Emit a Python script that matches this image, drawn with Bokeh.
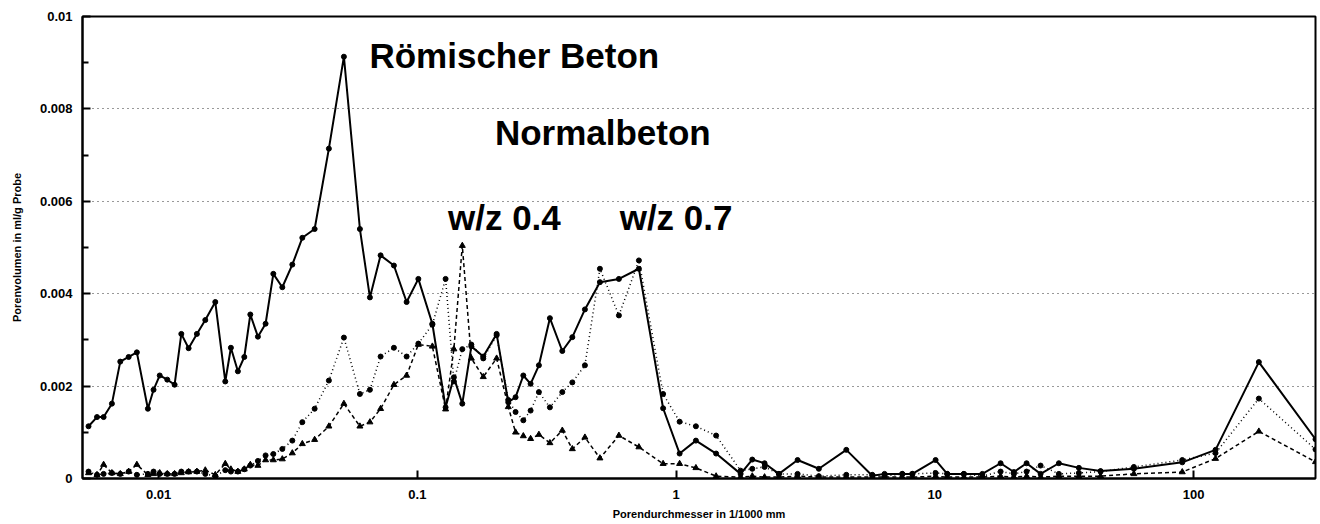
from bokeh.plotting import figure
from bokeh.models import FixedTicker, CustomJSTickFormatter, Range1d, Label
from bokeh.embed import file_html
from bokeh.resources import INLINE

# Porendurchmesser in 1/1000 mm
pore_d = [0.00536, 0.00578, 0.00613, 0.0066, 0.00711, 0.00766, 0.00824, 0.00909, 0.00956, 0.0101,
          0.0108, 0.01153, 0.01224, 0.01306, 0.01406, 0.01515, 0.01656, 0.0181, 0.01903, 0.02025,
          0.02144, 0.02262, 0.0242, 0.02591, 0.02776, 0.03007, 0.03287, 0.03593, 0.04009, 0.04551,
          0.05202, 0.05998, 0.06557, 0.07211, 0.08118, 0.09089, 0.1009, 0.1143, 0.1286, 0.1384,
          0.1492, 0.1617, 0.1798, 0.2025, 0.2246, 0.2397, 0.2568, 0.274, 0.295, 0.3253,
          0.3633, 0.3972, 0.4443, 0.5077, 0.6012, 0.7183, 0.891, 1.032, 1.193, 1.428,
          1.776, 1.970, 2.198, 2.497, 2.949, 3.563, 4.549, 5.733, 6.394, 7.484,
          8.185, 10.07, 11.17, 12.95, 15.26, 17.96, 20.21, 22.63, 25.63, 30.16,
          36.04, 43.71, 58.79, 90.43, 121.6, 178.8, 296.0]

# Römischer Beton (solid)
roman = [0.00113, 0.00133, 0.00133, 0.00162, 0.00253, 0.00263, 0.00273, 0.00151, 0.00192, 0.00223,
         0.00214, 0.00203, 0.00313, 0.00282, 0.00313, 0.00343, 0.00382, 0.0021, 0.00283, 0.00232,
         0.00263, 0.00355, 0.00307, 0.00335, 0.00443, 0.00414, 0.00463, 0.00521, 0.0054, 0.00714,
         0.00913, 0.0054, 0.00392, 0.00483, 0.00461, 0.00382, 0.00432, 0.00335, 0.00154, 0.00219,
         0.00162, 0.00286, 0.00264, 0.00313, 0.00165, 0.00176, 0.00223, 0.00205, 0.00245, 0.00347,
         0.00276, 0.00306, 0.00366, 0.00425, 0.00432, 0.00454, 0.00152, 0.00054, 0.00082, 0.00054,
         0.0001, 0.00041, 0.00033, 0.0001, 0.0004, 0.00021, 0.00062, 0.00006, 0.0001, 0.0001,
         0.0001, 0.0004, 0.0001, 0.0001, 0.0001, 0.00033, 0.00014, 0.00033, 0.0001, 0.00033,
         0.00023, 0.00016, 0.00021, 0.00035, 0.00062, 0.00252, 0.00085]

# Normalbeton w/z 0.7 (dotted)
wz07 = [0.00015, 0.00008, 0.0001, 0.00012, 0.0001, 0.00015, 0.00008, 0.0001, 0.00015, 0.0001,
        0.0001, 0.0001, 0.00015, 0.00015, 0.00015, 0.0001, 0.00005, 0.00018, 0.00015, 0.00015,
        0.0002, 0.00028, 0.00038, 0.0005, 0.00053, 0.00064, 0.00082, 0.00122, 0.00151, 0.00212,
        0.00305, 0.00183, 0.00192, 0.00264, 0.00283, 0.00264, 0.00292, 0.00333, 0.00432, 0.0021,
        0.0028, 0.0029, 0.0026, 0.0031, 0.0017, 0.00144, 0.00126, 0.00147, 0.00187, 0.00154,
        0.00187, 0.00208, 0.00245, 0.00454, 0.00353, 0.00472, 0.00183, 0.00123, 0.00113, 0.00093,
        0.00017, 0.00021, 0.00025, 0.0001, 0.0001, 0.00005, 0.00008, 0.00008, 0.00005, 0.0001,
        0.0001, 0.00012, 0.0001, 0.0001, 0.00005, 0.00015, 0.0001, 0.00015, 0.00028, 0.0001,
        0.00012, 0.00015, 0.00025, 0.0004, 0.00055, 0.00173, 0.00063]

# Normalbeton w/z 0.4 (dashed)
wz04 = [0.00012, 0.00008, 0.0003, 0.00012, 0.0001, 0.00015, 0.0003, 0.00008, 0.0001, 0.00012,
        0.0001, 0.0001, 0.00012, 0.00014, 0.00015, 0.00018, 0.00008, 0.00032, 0.0002, 0.00015,
        0.0002, 0.0003, 0.00028, 0.0004, 0.0004, 0.00042, 0.00055, 0.00075, 0.00084, 0.00113,
        0.00162, 0.00113, 0.00122, 0.00151, 0.00203, 0.00223, 0.0029, 0.00286, 0.0015, 0.0028,
        0.00504, 0.0026, 0.0022, 0.0026, 0.00155, 0.001, 0.00092, 0.00086, 0.00095, 0.00077,
        0.00104, 0.00064, 0.00089, 0.00044, 0.00093, 0.00068, 0.00032, 0.00032, 0.00023, 0.00005,
        0.00003, 0.00005, 0.00003, 0.00003, 0.00005, 0.00003, 0.00003, 0.00003, 0.00003, 0.00003,
        0.00003, 0.00005, 0.00003, 0.00003, 0.00003, 0.00005, 0.00003, 0.00005, 0.00003, 0.00005,
        0.00005, 0.00005, 0.0001, 0.00014, 0.00043, 0.00102, 0.00036]

y_ticks = [0, 0.002, 0.004, 0.006, 0.008, 0.01]
y_minor = [0.001, 0.003, 0.005, 0.007, 0.009]
x_ticks = [0.01, 0.1, 1, 10, 100]

p = figure(width=1318, height=522, x_axis_type="log",
           x_range=Range1d(0.00508, 296), y_range=Range1d(0, 0.01),
           output_backend="svg", toolbar_location=None,
           min_border_left=82, min_border_right=3, min_border_top=16, min_border_bottom=44)

p.outline_line_color = "black"
p.outline_line_width = 2
p.xgrid.visible = False
p.ygrid.grid_line_color = "#333333"
p.ygrid.grid_line_dash = "1 4"
p.ygrid.grid_line_width = 1

FONT = "Liberation Sans"

p.yaxis.ticker = FixedTicker(ticks=y_ticks, minor_ticks=y_minor)
p.yaxis.formatter = CustomJSTickFormatter(code="""
    if (tick == 0) return '0';
    return tick.toFixed(3).replace(/0+$/, '');
""")
p.xaxis.ticker = FixedTicker(ticks=x_ticks, minor_ticks=[])
p.xaxis.formatter = CustomJSTickFormatter(code="return String(tick);")

for ax in (p.xaxis, p.yaxis):
    ax.axis_line_width = 2
    ax.axis_line_color = "black"
    ax.major_tick_in = 8
    ax.major_tick_out = 0
    ax.major_tick_line_width = 2
    ax.minor_tick_in = 6
    ax.minor_tick_out = 0
    ax.minor_tick_line_width = 2
    ax.major_label_text_font = FONT
    ax.major_label_text_font_style = "bold"
    ax.major_label_text_font_size = "13px"
    ax.major_label_text_color = "black"
    ax.axis_label_text_font = FONT
    ax.axis_label_text_font_style = "bold"
    ax.axis_label_text_font_size = "11px"
    ax.axis_label_text_color = "black"

p.yaxis.major_label_standoff = 10
p.yaxis.axis_label = "Porenvolumen in ml/g Probe"
p.yaxis.axis_label_standoff = 14
p.xaxis.major_label_standoff = 11
p.xaxis.axis_label = "Porendurchmesser in 1/1000 mm"
p.xaxis.axis_label_standoff = 6

# series
p.line(pore_d, roman, line_color="black", line_width=2)
p.scatter(pore_d, roman, marker="circle", size=5, color="black")

p.line(pore_d, wz07, line_color="black", line_width=1.5, line_dash="1 3")
p.scatter(pore_d, wz07, marker="circle", size=5, color="black")

p.line(pore_d, wz04, line_color="black", line_width=1.5, line_dash="4 3")
p.scatter(pore_d, wz04, marker="triangle", size=6, color="black")

labels = [("Römischer Beton", 0.237, 0.00916),
          ("Normalbeton", 0.521, 0.0075),
          ("w/z 0.4", 0.217, 0.00566),
          ("w/z 0.7", 1.0, 0.00566)]
for txt, lx, ly in labels:
    p.add_layout(Label(x=lx, y=ly, text=txt, text_align="center", text_baseline="alphabetic",
                       text_font=FONT, text_font_style="bold", text_font_size="35px",
                       text_color="black"))

open("out.html", "w").write(file_html(p, INLINE))
